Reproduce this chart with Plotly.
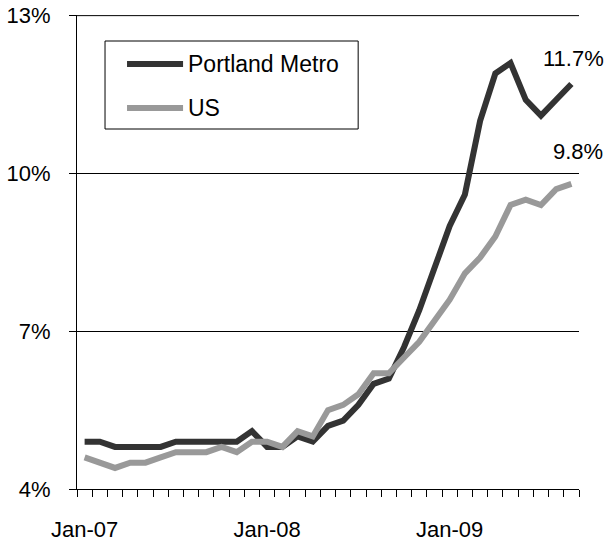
import plotly.graph_objects as go

months = ["Jan-07", "Feb-07", "Mar-07", "Apr-07", "May-07", "Jun-07", "Jul-07", "Aug-07",
          "Sep-07", "Oct-07", "Nov-07", "Dec-07",
          "Jan-08", "Feb-08", "Mar-08", "Apr-08", "May-08", "Jun-08", "Jul-08", "Aug-08",
          "Sep-08", "Oct-08", "Nov-08", "Dec-08",
          "Jan-09", "Feb-09", "Mar-09", "Apr-09", "May-09", "Jun-09", "Jul-09", "Aug-09",
          "Sep-09"]

portland = [4.9, 4.9, 4.8, 4.8, 4.8, 4.8, 4.9, 4.9, 4.9, 4.9, 4.9, 5.1,
            4.8, 4.8, 5.0, 4.9, 5.2, 5.3, 5.6, 6.0, 6.1, 6.7, 7.4, 8.2,
            9.0, 9.6, 11.0, 11.9, 12.1, 11.4, 11.1, 11.4, 11.7]

us = [4.6, 4.5, 4.4, 4.5, 4.5, 4.6, 4.7, 4.7, 4.7, 4.8, 4.7, 4.9,
      4.9, 4.8, 5.1, 5.0, 5.5, 5.6, 5.8, 6.2, 6.2, 6.5, 6.8, 7.2,
      7.6, 8.1, 8.4, 8.8, 9.4, 9.5, 9.4, 9.7, 9.8]

series_names = ["Portland Metro", "US"]
series_colors = ["#333333", "#999999"]

y_ticks = [4, 7, 10, 13]
x_label_idx = [0, 12, 24]

FONT = "Liberation Sans, Arial, sans-serif"
idx = list(range(len(months)))

W, H = 609, 541
# plot area in page pixels
L, R, T, B = 77, 578.7, 15, 489

fig = go.Figure()
for name, vals, col in zip(series_names, [portland, us], series_colors):
    fig.add_trace(go.Scatter(
        x=idx, y=vals, mode="lines", name=name,
        line=dict(color=col, width=6),
        customdata=months, hovertemplate="%{customdata}: %{y}%<extra>" + name + "</extra>",
        showlegend=False,
    ))

# end-of-line value labels
fig.add_annotation(x=idx[-1], y=portland[-1], text=f"{portland[-1]:.1f}%",
                   showarrow=False, xshift=2, yshift=26,
                   font=dict(size=22, color="black", family=FONT))
fig.add_annotation(x=idx[-1], y=us[-1], text=f"{us[-1]:.1f}%",
                   showarrow=False, xshift=7, yshift=32,
                   font=dict(size=22, color="black", family=FONT))

# top gridline (plotly skips the gridline sitting on the plot edge)
fig.add_shape(type="line", xref="paper", yref="y", x0=0, x1=1,
              y0=y_ticks[-1], y1=y_ticks[-1],
              line=dict(color="black", width=1), layer="below")

def px(xp):
    return (xp - L) / (R - L)
def py(yp):
    return (B - yp) / (B - T)

# legend (drawn box, sample lines and labels)
fig.add_shape(type="rect", xref="paper", yref="paper",
              x0=px(105), x1=px(358), y0=py(129), y1=py(41),
              line=dict(color="black", width=1), fillcolor="white", layer="above")
for name, col, rowy in zip(series_names, series_colors, [64, 108]):
    fig.add_shape(type="line", xref="paper", yref="paper",
                  x0=px(127), x1=px(183), y0=py(rowy), y1=py(rowy),
                  line=dict(color=col, width=6), layer="above")
    fig.add_annotation(xref="paper", yref="paper", x=px(186), y=py(rowy),
                       text=name, showarrow=False, xanchor="left", yanchor="middle",
                       font=dict(size=23, color="black", family=FONT))

fig.update_layout(
    width=W, height=H,
    margin=dict(l=L, r=W - R, t=T, b=H - B, autoexpand=False),
    paper_bgcolor="white", plot_bgcolor="white",
    font=dict(family=FONT, size=22, color="black"),
    showlegend=False,
)

fig.update_xaxes(
    range=[-0.5, len(months) - 0.5],
    automargin=False,
    tickmode="array", tickvals=x_label_idx,
    ticktext=[months[i] for i in x_label_idx],
    ticks="outside", ticklen=7, tickcolor="rgba(0,0,0,0)",
    ticklabelstandoff=14, ticklabeloverflow="allow",
    showline=True, linecolor="black", linewidth=1,
    showgrid=False, zeroline=False,
    minor=dict(tickmode="array", tickvals=[i - 0.5 for i in range(len(months) + 1)],
               ticks="outside", ticklen=7, tickcolor="black", tickwidth=1, showgrid=False),
    tickfont=dict(size=22, family=FONT, color="black"),
)
fig.update_yaxes(
    range=[y_ticks[0], y_ticks[-1] + 0.012],
    automargin=False,
    tickmode="array", tickvals=y_ticks, ticktext=[f"{v}%" for v in y_ticks],
    ticks="outside", ticklen=7, tickcolor="black", tickwidth=1,
    ticklabelstandoff=14, ticklabeloverflow="allow",
    showline=True, linecolor="black", linewidth=1,
    showgrid=True, gridcolor="black", gridwidth=1, zeroline=False,
    tickfont=dict(size=22, family=FONT, color="black"),
)

fig.write_html("out.html", config={"displayModeBar": False},
               post_script="document.body.style.margin='0';")
